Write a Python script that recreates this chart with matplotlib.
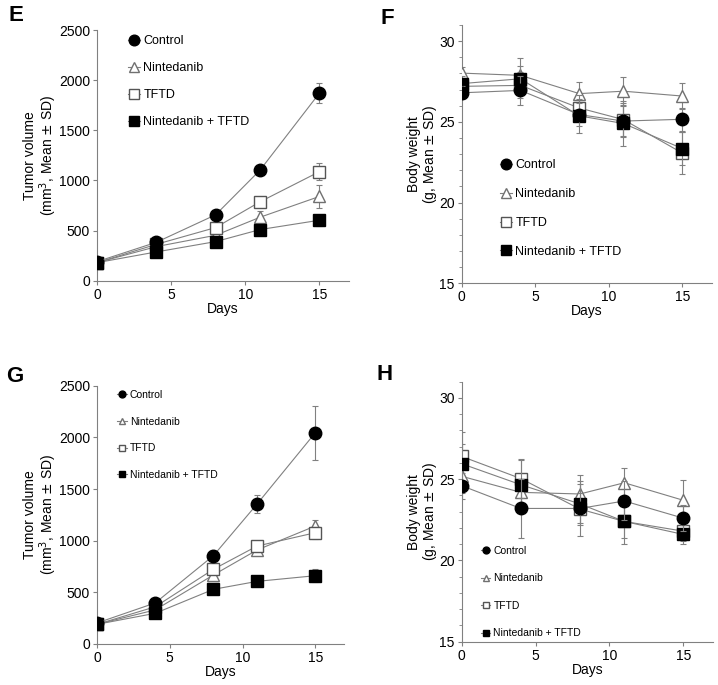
import numpy as np
import matplotlib.pyplot as plt
from matplotlib.ticker import MultipleLocator

plt.rcParams['font.family'] = ['Liberation Sans', 'DejaVu Sans']

days = [0, 4, 8, 11, 15]
groups = ['Control', 'Nintedanib', 'TFTD', 'Nintedanib + TFTD']

# panel E - tumor volume
e_mean = {
    'Control': [190, 383, 657, 1103, 1870],
    'Nintedanib': [180, 340, 453, 633, 840],
    'TFTD': [180, 363, 530, 787, 1087],
    'Nintedanib + TFTD': [180, 287, 390, 510, 603],
}
e_sd = {
    'Control': [15, 20, 30, 30, 100],
    'Nintedanib': [10, 15, 30, 65, 115],
    'TFTD': [10, 15, 30, 30, 85],
    'Nintedanib + TFTD': [10, 15, 20, 20, 55],
}

# panel F - body weight
f_mean = {
    'Control': [26.8, 26.95, 25.45, 25.05, 25.16],
    'Nintedanib': [28.02, 27.88, 26.75, 26.9, 26.6],
    'TFTD': [27.2, 27.26, 25.86, 25.14, 23.07],
    'Nintedanib + TFTD': [27.37, 27.67, 25.37, 24.9, 23.35],
}
f_sd = {
    'Control': [0.4, 0.9, 0.7, 1.0, 0.7],
    'Nintedanib': [0.4, 1.1, 0.75, 0.9, 0.8],
    'TFTD': [0.5, 0.8, 0.8, 1.0, 1.3],
    'Nintedanib + TFTD': [0.5, 0.8, 1.05, 1.4, 1.0],
}

# panel G - tumor volume
g_mean = {
    'Control': [203, 397, 855, 1355, 2045],
    'Nintedanib': [190, 330, 668, 910, 1142],
    'TFTD': [190, 360, 723, 948, 1077],
    'Nintedanib + TFTD': [190, 297, 529, 606, 661],
}
g_sd = {
    'Control': [20, 25, 55, 85, 260],
    'Nintedanib': [15, 20, 40, 40, 60],
    'TFTD': [15, 20, 40, 40, 60],
    'Nintedanib + TFTD': [10, 20, 25, 25, 60],
}

# panel H - body weight
h_mean = {
    'Control': [24.6, 23.2, 23.2, 23.66, 22.6],
    'Nintedanib': [25.18, 24.19, 24.09, 24.78, 23.7],
    'TFTD': [26.4, 25.04, 23.16, 22.4, 21.8],
    'Nintedanib + TFTD': [25.95, 24.66, 23.48, 22.4, 21.6],
}
h_sd = {
    'Control': [0.8, 1.8, 1.7, 1.2, 0.8],
    'Nintedanib': [1.0, 1.0, 1.15, 0.9, 1.25],
    'TFTD': [1.5, 1.2, 1.0, 1.0, 0.6],
    'Nintedanib + TFTD': [1.2, 1.5, 1.2, 1.4, 0.6],
}

style = {
    'Control': dict(marker='o', mfc='black', mec='black', ms=9),
    'Nintedanib': dict(marker='^', mfc='white', mec='#707070', ms=9),
    'TFTD': dict(marker='s', mfc='white', mec='#555555', ms=8),
    'Nintedanib + TFTD': dict(marker='s', mfc='black', mec='black', ms=8),
}
draw_order = ['Nintedanib', 'TFTD', 'Nintedanib + TFTD', 'Control']
gray = '#808080'


def panel(ax, mean, sd, ylim, yticks, ylabel, minor, leg_pos, leg_fs, leg_ms):
    handles = {}
    for z, g in enumerate(draw_order):
        st = style[g]
        h = ax.errorbar(days, mean[g], yerr=sd[g], color=gray, lw=0.8,
                        ecolor=gray, elinewidth=0.8, capsize=2, capthick=0.8,
                        zorder=3 + z, **st)
        handles[g] = h[0]
    ax.set_xlim(0, 17)
    ax.set_ylim(*ylim)
    ax.set_xticks([0, 5, 10, 15])
    ax.set_yticks(yticks)
    if minor:
        ax.yaxis.set_minor_locator(MultipleLocator(minor))
    for s in ['top', 'right']:
        ax.spines[s].set_visible(False)
    for s in ['left', 'bottom']:
        ax.spines[s].set_color(gray)
        ax.spines[s].set_linewidth(0.8)
    ax.tick_params(axis='both', which='major', labelsize=10, color=gray,
                   length=3, width=0.8, pad=2)
    ax.tick_params(axis='y', which='minor', color=gray, length=2, width=0.6)
    ax.set_xlabel('Days', fontsize=10, labelpad=0)
    ax.set_ylabel(ylabel, fontsize=10, linespacing=1.0, labelpad=0)
    ax.legend([handles[g] for g in groups], groups, loc='upper left',
              bbox_to_anchor=leg_pos, frameon=False, fontsize=leg_fs,
              handlelength=0.9, handletextpad=0.3, labelspacing=leg_ms[0],
              markerscale=leg_ms[1], borderaxespad=0)


fig = plt.figure(figsize=(7.18, 6.85), dpi=100)
axE = fig.add_axes([0.1351, 0.5902, 0.3510, 0.3660])
axF = fig.add_axes([0.6430, 0.5864, 0.3482, 0.3771])
axG = fig.add_axes([0.1351, 0.0599, 0.3446, 0.3770])
axH = fig.add_axes([0.6430, 0.0632, 0.3500, 0.3796])

tv_label = 'Tumor volume\n(mm$^3$, Mean $\\pm$ SD)'
bw_label = 'Body weight\n(g, Mean $\\pm$ SD)'

panel(axE, e_mean, e_sd, (0, 2500), range(0, 2501, 500), tv_label, None,
      (0.105, 1.0), 9, (1.2, 0.85))
panel(axF, f_mean, f_sd, (15, 31), [15, 20, 25, 30], bw_label, 1,
      (0.135, 0.50), 9, (1.35, 0.85))
panel(axG, g_mean, g_sd, (0, 2500), range(0, 2501, 500), tv_label, None,
      (0.065, 1.0), 7.5, (1.6, 0.55))
panel(axH, h_mean, h_sd, (15, 31), [15, 20, 25, 30], bw_label, 1,
      (0.06, 0.385), 7.5, (1.68, 0.55))

for letter, x, y in [('E', 0.012, 0.992), ('F', 0.530, 0.988),
                     ('G', 0.009, 0.465), ('H', 0.525, 0.469)]:
    fig.text(x, y, letter, fontsize=16, fontweight='bold', va='top')

fig.savefig('out.png', dpi=100)
